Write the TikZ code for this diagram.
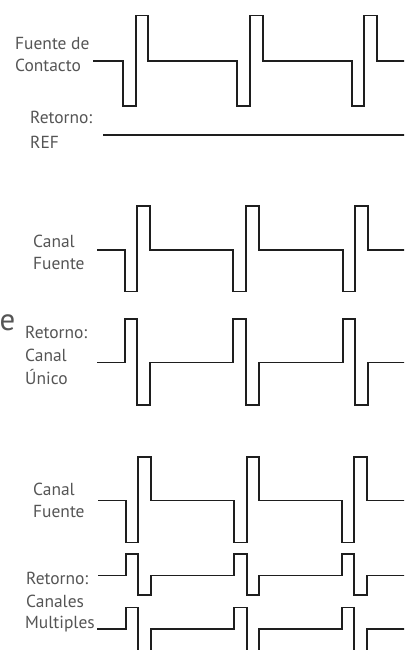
\documentclass[tikz,border=0pt]{standalone}
\usepackage{fontspec}
\setmainfont{PT Sans}
\begin{document}
\begin{tikzpicture}[x=1bp,y=-1bp,
  lbl/.style={anchor=base west,inner sep=0pt,text=labelgray,font=\fontsize{17.5}{20}\selectfont},
  wave/.style={draw=wavecol,line width=1.5bp,line join=miter}]
\definecolor{labelgray}{HTML}{555555}
\definecolor{wavecol}{HTML}{1E1E1E}
\useasboundingbox (0,0) rectangle (404,650);
\clip (0,0) rectangle (404,650);
% ---------- panel 1 ----------
\node[lbl] (l1a) at (15,50) {Fuente de};
\node[lbl] (l1b) at (15,72) {Contacto};
\node[lbl] (l2a) at (30,124) {Retorno:};
\node[lbl] (l2b) at (30,148) {REF};
\draw[wave] (93,61) \foreach \a/\b/\c in {123/136/148,237/250/263,352/364/377}
  { -- (\a,61) -- (\a,106) -- (\b,106) -- (\b,15.7) -- (\c,15.7) -- (\c,61) } -- (405,61);
\draw[wave] (103,135) -- (405,135);
% ---------- stray letter ----------
\node[anchor=base east,inner sep=0pt,text=labelgray,font=\fontsize{31}{31}\selectfont] (st) at (15.5,330) {e};
% ---------- panel 2 ----------
\node[lbl] (l3a) at (33,247) {Canal};
\node[lbl] (l3b) at (33,269) {Fuente};
\node[lbl] (l4a) at (25,338) {Retorno:};
\node[lbl] (l4b) at (25,361) {Canal};
\node[lbl] (l4c) at (25,384) {Único};
\draw[wave] (97,250) \foreach \a/\b/\c in {125/137/150,233/246/259,343/355/368}
  { -- (\a,250) -- (\a,291.7) -- (\b,291.7) -- (\b,206) -- (\c,206) -- (\c,250) } -- (405,250);
\draw[wave] (97,362.7) \foreach \a/\b/\c in {125/137/150,233/246/259,343/355/368}
  { -- (\a,362.7) -- (\a,319) -- (\b,319) -- (\b,405) -- (\c,405) -- (\c,362.7) } -- (405,362.7);
% ---------- panel 3 ----------
\node[lbl] (l5a) at (33,495) {Canal};
\node[lbl] (l5b) at (33,517) {Fuente};
\node[lbl] (l6a) at (26,584) {Retorno:};
\node[lbl] (l6b) at (26,607) {Canales};
\node[lbl] (l6c) at (25,628) {Multiples};
\draw[wave] (98,500.7) \foreach \a/\b/\c in {126/138/151,234/247/259,342/354/367}
  { -- (\a,500.7) -- (\a,542.7) -- (\b,542.7) -- (\b,457) -- (\c,457) -- (\c,500.7) } -- (405,500.7);
\draw[wave] (98,575.7) \foreach \a/\b/\c in {126/138/151,234/247/259,342/354/367}
  { -- (\a,575.7) -- (\a,554) -- (\b,554) -- (\b,595) -- (\c,595) -- (\c,575.7) } -- (405,575.7);
\draw[wave] (97,629) \foreach \a/\b/\c in {126/138/151,234/247/259,342/354/367}
  { -- (\a,629) -- (\a,607.7) -- (\b,607.7) -- (\b,665) -- (\c,665) -- (\c,629) } -- (405,629);
\end{tikzpicture}
\end{document}
